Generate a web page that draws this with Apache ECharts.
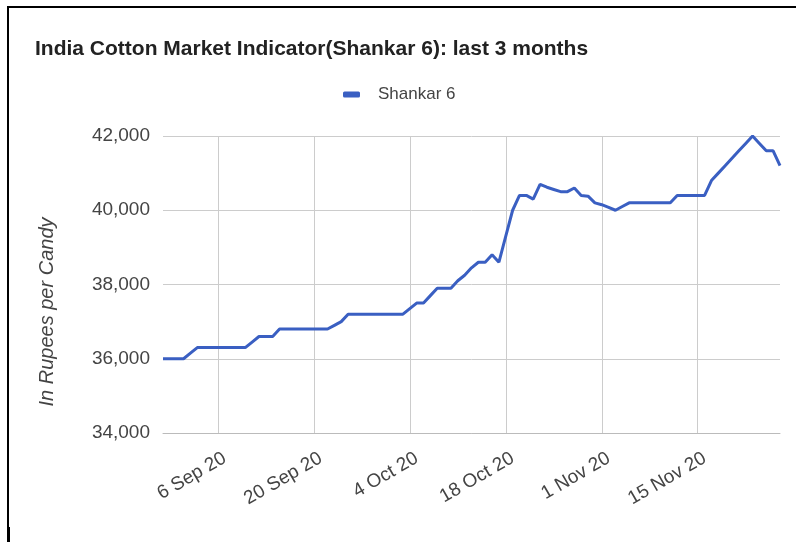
<!DOCTYPE html>
<html>
<head>
<meta charset="utf-8">
<script src="https://cdn.jsdelivr.net/npm/echarts@6/dist/echarts.min.js"></script>
<style>
html,body{margin:0;padding:0;background:#fff;}
#chart{width:796px;height:542px;}
</style>
</head>
<body>
<div id="chart"></div>
<script>
// ---- data ----
const dates = [
 '2020-08-29','2020-08-30','2020-08-31','2020-09-01','2020-09-02','2020-09-03','2020-09-04','2020-09-05',
 '2020-09-06','2020-09-07','2020-09-08','2020-09-09','2020-09-10','2020-09-11','2020-09-12','2020-09-13',
 '2020-09-14','2020-09-15','2020-09-16','2020-09-17','2020-09-18','2020-09-19','2020-09-20','2020-09-21',
 '2020-09-22','2020-09-23','2020-09-24','2020-09-25','2020-09-26','2020-09-27','2020-09-28','2020-09-29',
 '2020-09-30','2020-10-01','2020-10-02','2020-10-03','2020-10-04','2020-10-05','2020-10-06','2020-10-07',
 '2020-10-08','2020-10-09','2020-10-10','2020-10-11','2020-10-12','2020-10-13','2020-10-14','2020-10-15',
 '2020-10-16','2020-10-17','2020-10-18','2020-10-19','2020-10-20','2020-10-21','2020-10-22','2020-10-23',
 '2020-10-24','2020-10-25','2020-10-26','2020-10-27','2020-10-28','2020-10-29','2020-10-30','2020-10-31',
 '2020-11-01','2020-11-02','2020-11-03','2020-11-04','2020-11-05','2020-11-06','2020-11-07','2020-11-08',
 '2020-11-09','2020-11-10','2020-11-11','2020-11-12','2020-11-13','2020-11-14','2020-11-15','2020-11-16',
 '2020-11-17','2020-11-18','2020-11-19','2020-11-20','2020-11-21','2020-11-22','2020-11-23','2020-11-24',
 '2020-11-25','2020-11-26','2020-11-27'
];
const shankar6 = [
 36000,36000,36000,36000,36150,36300,36300,36300,
 36300,36300,36300,36300,36300,36450,36600,36600,
 36600,36800,36800,36800,36800,36800,36800,36800,
 36800,36900,37000,37200,37200,37200,37200,37200,
 37200,37200,37200,37200,37350,37500,37500,37700,
 37900,37900,37900,38100,38250,38450,38600,38600,
 38800,38600,39300,40000,40400,40400,40300,40700,
 40620,40560,40500,40500,40600,40400,40380,40200,
 40150,40080,40000,40100,40200,40200,40200,40200,
 40200,40200,40200,40400,40400,40400,40400,40400,
 40800,41000,41200,41400,41600,41800,42000,41800,
 41600,41600,41200
];
const tickDates = ['2020-09-06','2020-09-20','2020-10-04','2020-10-18','2020-11-01','2020-11-15'];
const tickLabels = ['6 Sep 20','20 Sep 20','4 Oct 20','18 Oct 20','1 Nov 20','15 Nov 20'];
const yMin = 34000, yMax = 42000, yStep = 2000;
const seriesName = 'Shankar 6';
const titleText = 'India Cotton Market Indicator(Shankar 6): last 3 months';
const yAxisTitle = 'In Rupees per Candy';

const chart = echarts.init(document.getElementById('chart'), null, {renderer: 'canvas'});
const isTick = (i, v) => tickDates.indexOf(v) >= 0;
const textColor = '#444';
const font = '"Liberation Sans", Arial, sans-serif';

chart.setOption({
  animation: false,
  backgroundColor: '#fff',
  title: {
    text: titleText,
    left: 30, top: 34,
    textStyle: {fontFamily: font, fontWeight: 'bold', fontSize: 21, color: '#222'}
  },
  legend: {
    data: [seriesName],
    left: 338, top: 81,
    icon: 'roundRect', itemWidth: 17, itemHeight: 6,
    textStyle: {fontFamily: font, fontSize: 17, color: textColor, padding: [0, 0, 0, 13]}
  },
  grid: {left: 163, right: 16, top: 136, bottom: 109, containLabel: false},
  xAxis: {
    type: 'category', data: dates, boundaryGap: false,
    axisLine: {show: true, lineStyle: {color: '#bbb', width: 1}},
    axisTick: {show: false},
    axisLabel: {
      interval: isTick, rotate: 30, margin: 28,
      formatter: v => tickLabels[tickDates.indexOf(v)] || '',
      fontFamily: font, fontSize: 19, color: textColor,
      padding: [0, -8, 0, 0]
    },
    splitLine: {show: true, interval: isTick, lineStyle: {color: '#ccc', width: 1}}
  },
  yAxis: {
    type: 'value', min: yMin, max: yMax, interval: yStep,
    axisLine: {show: false}, axisTick: {show: false},
    axisLabel: {fontFamily: font, fontSize: 19, color: textColor, margin: 13},
    splitLine: {lineStyle: {color: '#ccc', width: 1}}
  },
  graphic: [
    {type: 'text', x: 47, y: 312, rotation: Math.PI / 2,
     style: {text: yAxisTitle, font: 'italic 20px "Liberation Sans", Arial, sans-serif', fill: textColor, align: 'center', verticalAlign: 'middle'}},
    {type: 'line', shape: {x1: 8, y1: 7, x2: 796, y2: 7}, style: {stroke: '#000', lineWidth: 2}},
    {type: 'line', shape: {x1: 8, y1: 6, x2: 8, y2: 542}, style: {stroke: '#000', lineWidth: 2}},
    {type: 'line', shape: {x1: 8.5, y1: 527, x2: 8.5, y2: 542}, style: {stroke: '#000', lineWidth: 3}}
  ],
  series: [{
    name: seriesName, type: 'line', data: shankar6,
    showSymbol: false, symbol: 'none',
    lineStyle: {color: '#3a5fc2', width: 3},
    itemStyle: {color: '#3a5fc2'}
  }]
});
</script>
</body>
</html>
